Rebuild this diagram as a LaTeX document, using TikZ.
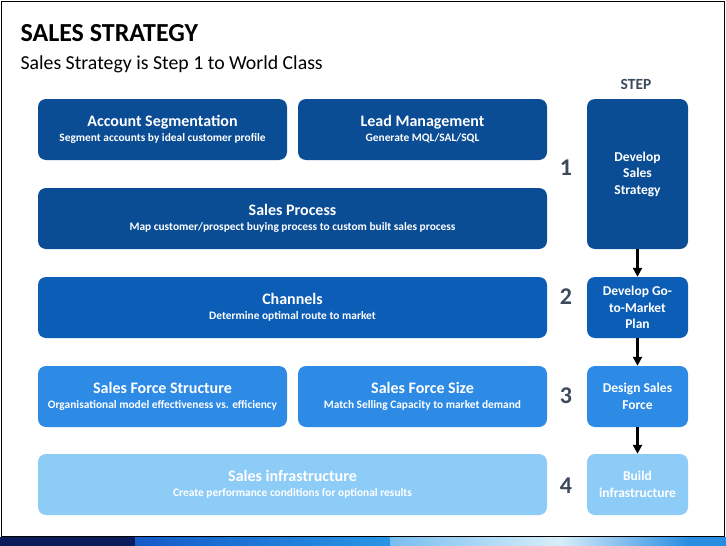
\documentclass[tikz,border=0pt]{standalone}
\usepackage{fontspec}
\setmainfont{Carlito}
\usetikzlibrary{arrows.meta}
\definecolor{cA}{HTML}{0B4D95}
\definecolor{cB}{HTML}{0B5DB5}
\definecolor{cC}{HTML}{2D8BE6}
\definecolor{cD}{HTML}{8ECCF8}
\definecolor{numc}{HTML}{3C4A5C}
\definecolor{barnavy}{HTML}{0A1A5A}
\definecolor{barb1}{RGB}{20,90,200}
\definecolor{barb2}{RGB}{40,150,230}
\definecolor{barl1}{RGB}{120,190,240}
\definecolor{barl2}{RGB}{215,238,250}
\definecolor{barb3}{RGB}{40,140,225}
\newcommand{\bt}[1]{{\fontsize{16}{17}\selectfont #1}}
\newcommand{\bs}[1]{{\fontsize{11.4}{13}\selectfont #1}}
\tikzset{
  blk/.style={rounded corners=8pt, inner sep=0pt, text=white, align=center, font=\bfseries},
  numlbl/.style={font=\fontsize{24}{24}\selectfont\bfseries, text=numc},
  stepflow/.style={-{Triangle[length=9pt,width=9pt]}, line width=2.5pt, black},
  stepbox/.style={blk, minimum width=101pt, minimum height=61pt, font=\fontsize{13.5}{16.5}\selectfont\bfseries},
}
\begin{document}
\begin{tikzpicture}[x=1pt,y=-1pt]
\useasboundingbox (0,0) rectangle (726,546);
\fill[white] (0,0) rectangle (726,546);
\draw[line width=1.2pt] (1.5,1.5) rectangle (724.5,537);
% bottom bar
\fill[barnavy] (0,537) rectangle (135,546);
\shade[left color=barb1, right color=barb2] (135,537) rectangle (390,546);
\shade[left color=barl1, right color=barl2] (390,537) rectangle (560,546);
\shade[left color=barl2, right color=barb3] (560,537) rectangle (690,546);
\fill[barb3] (690,537) rectangle (726,546);

% titles
\node[anchor=base west, font=\fontsize{26}{26}\selectfont\bfseries] (title) at (17,41) {SALES STRATEGY};
\node[anchor=base west, font=\fontsize{19.8}{20}\selectfont] (sub) at (17,69) {Sales Strategy is Step 1 to World Class};
\node[font=\fontsize{15.5}{15}\selectfont\bfseries, text=numc] (steph) at (636,84) {STEP};

% left boxes
\node[blk, fill=cA, minimum width=249pt, minimum height=61pt] (acc) at (162.5,129.5)
  {\bt{Account Segmentation}\\[3pt]\bs{Segment accounts by ideal customer profile}};
\node[blk, fill=cA, minimum width=249pt, minimum height=61pt] (lead) at (422.5,129.5)
  {\bt{Lead Management}\\[3pt]\bs{Generate MQL/SAL/SQL}};
\node[blk, fill=cA, minimum width=509pt, minimum height=61pt] (proc) at (292.5,218.5)
  {\bt{Sales Process}\\[3pt]\bs{Map customer/prospect buying process to custom built sales process}};
\node[blk, fill=cB, minimum width=509pt, minimum height=61pt] (chan) at (292.5,307.5)
  {\bt{Channels}\\[3pt]\bs{Determine optimal route to market}};
\node[blk, fill=cC, minimum width=249pt, minimum height=61pt] (sfs) at (162.5,396.5)
  {\bt{Sales Force Structure}\\[3pt]\bs{Organisational model effectiveness vs. efficiency}};
\node[blk, fill=cC, minimum width=249pt, minimum height=61pt] (sfz) at (422.5,396.5)
  {\bt{Sales Force Size}\\[3pt]\bs{Match Selling Capacity to market demand}};
\node[blk, fill=cD, minimum width=509pt, minimum height=61pt] (infra) at (292.5,484.5)
  {\bt{Sales infrastructure}\\[3pt]\bs{Create performance conditions for optional results}};

% numbers
\node[numlbl] (n1) at (566,168) {1};
\node[numlbl] (n2) at (566,297) {2};
\node[numlbl] (n3) at (566,396) {3};
\node[numlbl] (n4) at (566,486) {4};

% step boxes
\node[stepbox, fill=cA, minimum height=150pt] (s1) at (637.5,174) {Develop\\Sales\\Strategy};
\node[stepbox, fill=cB] (s2) at (637.5,307.5) {Develop Go-\\to-Market\\Plan};
\node[stepbox, fill=cC] (s3) at (637.5,396.5) {Design Sales\\Force};
\node[stepbox, fill=cD] (s4) at (637.5,484.5) {Build\\infrastructure};

\draw[stepflow] (s1.south) -- (s2.north);
\draw[stepflow] (s2.south) -- (s3.north);
\draw[stepflow] (s3.south) -- (s4.north);
\end{tikzpicture}
\end{document}
